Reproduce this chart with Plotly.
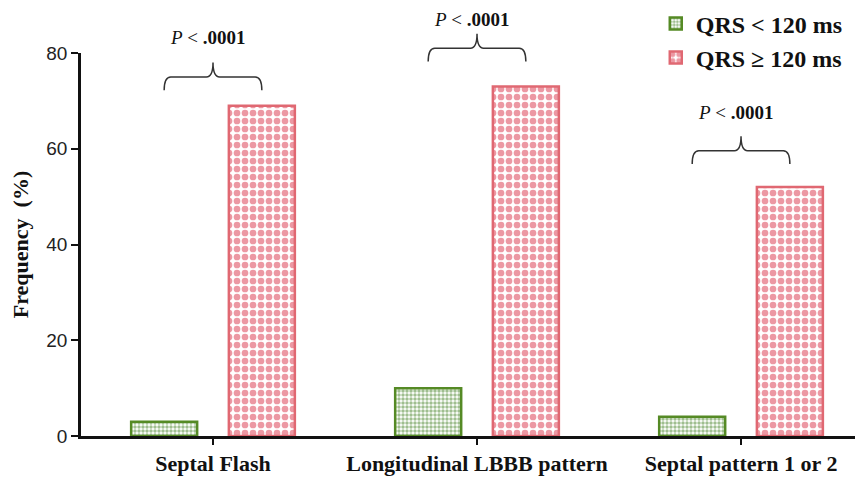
import plotly.graph_objects as go

# ---------------- data ----------------
categories = ["Septal Flash", "Longitudinal LBBB pattern", "Septal pattern 1 or 2"]
qrs_lt_120 = [3, 10, 4]
qrs_ge_120 = [69, 73, 52]
series_names = ["QRS < 120 ms", "QRS ≥ 120 ms"]
p_labels = ["<i>P</i> < <b>.0001</b>"] * 3
brace_levels = [75, 81, 59.6]
p_label_levels = [83.2, 87.1, 67.6]
y_ticks = [0, 20, 40, 60, 80]

# ---------------- style ----------------
GREEN_LINE = "#558a25"
GREEN_FG = "#3f7d1f"
RED_LINE = "#e06872"
RED_FG = "#d93148"
BAR_W = 0.25
OFF_G = -0.31
OFF_R = 0.06
Y_MAX = 80

xs = list(range(len(categories)))

fig = go.Figure()
fig.add_trace(go.Bar(
    x=xs, y=qrs_lt_120, name=f"<b>{series_names[0]}</b>", width=BAR_W, offset=OFF_G,
    marker=dict(color="white", line=dict(color=GREEN_LINE, width=2.5),
                pattern=dict(shape=".", fgcolor=GREEN_FG, bgcolor="white",
                             size=4, solidity=0.6, fillmode="overlay")),
))
fig.add_trace(go.Bar(
    x=xs, y=qrs_ge_120, name=f"<b>{series_names[1]}</b>", width=BAR_W, offset=OFF_R,
    marker=dict(color="white", line=dict(color=RED_LINE, width=2.5),
                pattern=dict(shape=".", fgcolor=RED_FG, bgcolor="white",
                             size=8, solidity=0.55, fillmode="overlay")),
))

# brackets + p-value labels
shapes = []
annotations = []
for i, lvl in enumerate(brace_levels):
    x0 = i + OFF_G + BAR_W / 2
    x1 = i + OFF_R + BAR_W / 2
    xc = i
    yh = lvl / Y_MAX
    yb = (lvl - 2.8) / Y_MAX
    ys = (lvl + 3.0) / Y_MAX
    dx = 0.025
    path = (f"M {x0},{yb} Q {x0},{yh} {x0+dx},{yh} L {xc-dx},{yh} "
            f"Q {xc},{yh} {xc},{ys} Q {xc},{yh} {xc+dx},{yh} "
            f"L {x1-dx},{yh} Q {x1},{yh} {x1},{yb}")
    shapes.append(dict(type="path", path=path, xref="x", yref="paper",
                       line=dict(color="#333333", width=1.5)))
    annotations.append(dict(
        x=xc - 0.02, y=p_label_levels[i] / Y_MAX, xref="x", yref="paper",
        text=p_labels[i], showarrow=False, xanchor="center", yanchor="middle",
        font=dict(family="Liberation Serif", size=19, color="#111111"),
    ))

# the page body adds an 8px offset, so the figure is sized/margined to compensate
fig.update_layout(
    width=855, height=476,
    margin=dict(l=73, r=0, t=45, b=48, autoexpand=False),
    paper_bgcolor="white", plot_bgcolor="white",
    barmode="overlay",
    showlegend=True,
    legend=dict(x=0.735, y=1.135, xanchor="left", yanchor="top",
                bgcolor="rgba(0,0,0,0)",
                font=dict(family="Liberation Serif", size=24, color="#111111"),
                itemwidth=30, tracegroupgap=0),
    shapes=shapes,
    annotations=annotations,
)
fig.update_xaxes(
    range=[-0.5, 2.462], tickmode="array", tickvals=xs,
    ticktext=[f"<b>{c}</b>" for c in categories],
    showline=True, linecolor="#111111", linewidth=2.5,
    ticks="outside", ticklen=6, tickwidth=2, tickcolor="#111111",
    showgrid=False, zeroline=False,
    tickfont=dict(family="Liberation Serif", size=22, color="#111111"),
)
fig.update_yaxes(
    range=[0, Y_MAX], tickmode="array", tickvals=y_ticks,
    showline=True, linecolor="#111111", linewidth=2.5,
    ticks="outside", ticklen=7, tickwidth=2, tickcolor="#111111",
    showgrid=False, zeroline=False,
    tickfont=dict(family="Liberation Sans", size=19, color="#222222"),
    title=dict(text="<b>Frequency  (%)</b>", standoff=12,
               font=dict(family="Liberation Serif", size=22, color="#111111")),
)

fig.write_html("out.html")
